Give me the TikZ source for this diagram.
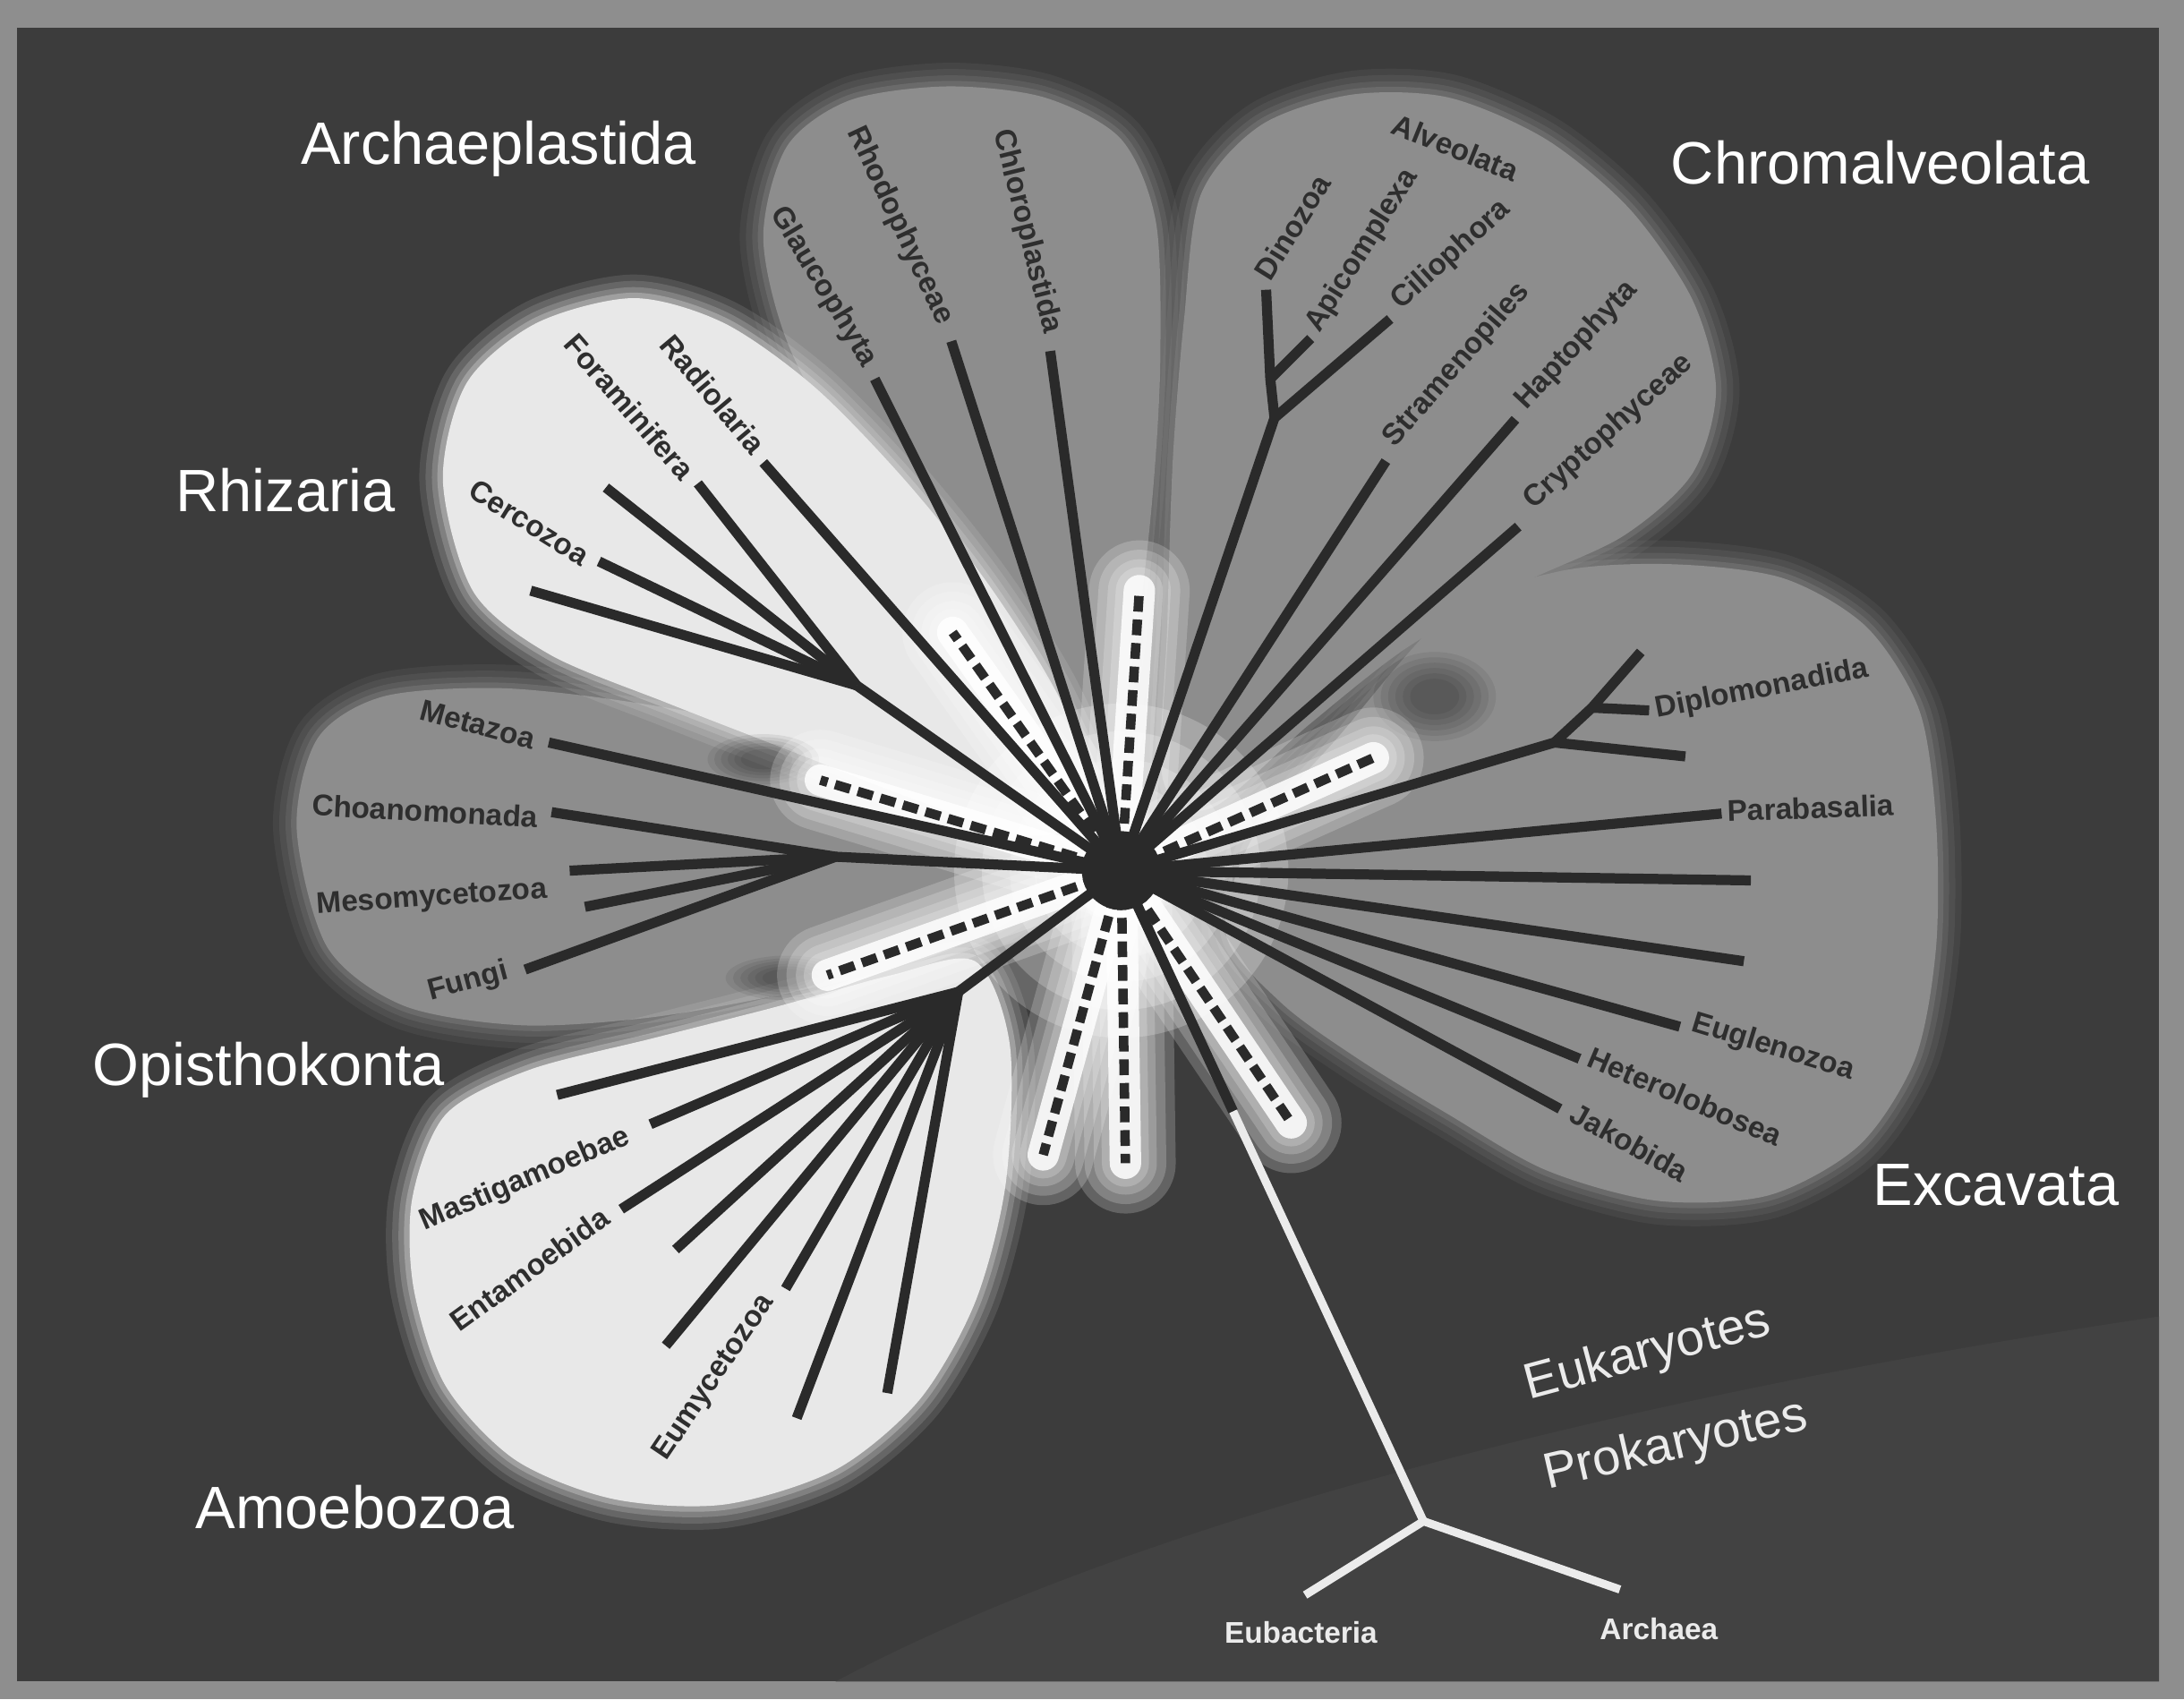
\documentclass[tikz,border=0pt]{standalone}
\usepackage{fontspec}
\setmainfont{Liberation Sans}
\usepackage{tikz}
\usetikzlibrary{calc}

\definecolor{frame}{HTML}{8E8E8E}
\definecolor{panel}{HTML}{3C3C3C}
\definecolor{band}{HTML}{424242}
\definecolor{petalgray}{HTML}{8D8D8D}
\definecolor{petalwhite}{HTML}{E8E8E8}
\definecolor{branch}{HTML}{2A2A2A}
\definecolor{taxtext}{HTML}{2E2E2E}

\begin{document}
\begin{tikzpicture}[
    x=0.015561cm, y=-0.015561cm,
    petal/.style={fill=#1, line join=round,
        preaction={draw=#1, draw opacity=0.12, line width=15pt, line join=round},
        preaction={draw=#1, draw opacity=0.15, line width=11pt, line join=round},
        preaction={draw=#1, draw opacity=0.2, line width=7pt, line join=round},
        preaction={draw=#1, draw opacity=0.3, line width=3.5pt, line join=round}},
    darkspot/.style={fill=black, fill opacity=0.07},
    branchline/.style={draw=branch, line width=3.2pt, line join=round},
    dashline/.style={draw=branch, line width=3pt, dash pattern=on 5pt off 2.5pt},
    rootline/.style={draw=white!92!black, line width=2.6pt, line join=round},
    group/.style={text=white, font=\fontsize{19}{22}\selectfont, inner sep=0pt},
    domainlbl/.style={text=white!92!black, font=\fontsize{16}{19}\selectfont, inner sep=0pt},
    leaf/.style={text=white!92!black, font=\bfseries\fontsize{9.5}{11}\selectfont, inner sep=0pt},
    taxon/.style={text=taxtext, font=\bfseries\fontsize{9.5}{11}\selectfont, inner sep=0pt}
]
\useasboundingbox (0,0) rectangle (1568,1220);

% Frame and background
\fill[frame] (0,0) rectangle (1568,1220);
\fill[panel] (12,20) rectangle (1550,1207);
\fill[band] (600,1207) .. controls (820,1090) and (1180,1000) .. (1550,945) -- (1550,1207) -- cycle;

% Petals
\path[petal=petalgray] plot[smooth cycle] coordinates {(548,170) (565,105) (610,72) (680,62) (750,70) (805,100) (830,160) (833,260) (828,350) (818,440) (800,540) (770,560) (730,500) (680,430) (610,330) (565,245)};
\path[petal=petalgray] plot[smooth cycle] coordinates {(850,230) (862,140) (905,90) (970,68) (1040,70) (1110,100) (1170,150) (1215,215) (1232,280) (1215,340) (1165,385) (1090,420) (1010,465) (940,520) (870,580) (835,560) (838,450) (842,330)};
\path[petal=petalgray] plot[smooth cycle] coordinates {(1040,440) (1120,410) (1200,405) (1280,415) (1340,450) (1378,510) (1390,590) (1390,680) (1375,760) (1335,822) (1270,858) (1190,862) (1110,840) (1040,800) (975,760) (920,720) (880,670) (900,600) (960,530)};
\path[petal=petalgray] plot[smooth cycle] coordinates {(213,595) (228,530) (275,500) (360,494) (460,505) (560,525) (650,560) (730,600) (740,650) (660,690) (570,712) (470,730) (375,736) (290,722) (235,680)};
\path[petal=petalwhite] plot[smooth cycle] coordinates {(318,345) (335,275) (385,232) (455,214) (520,232) (585,278) (650,345) (710,420) (760,500) (790,580) (740,600) (660,575) (570,540) (480,505) (395,470) (340,425)};
\path[petal=petalwhite] plot[smooth cycle] coordinates {(296,860) (320,800) (380,768) (470,745) (560,722) (640,700) (700,690) (725,750) (722,850) (700,935) (660,1005) (600,1055) (520,1080) (440,1076) (370,1048) (320,995) (297,925)};

% Shadows between petals
\foreach \r in {1,0.88,0.76,0.64,0.52,0.4} {
  \fill[darkspot] (1030,500) ellipse ({44*\r} and {32*\r});
  \fill[darkspot] (548,545) ellipse ({40*\r} and {18*\r});
  \fill[darkspot] (565,702) ellipse ({44*\r} and {16*\r});
}

% Tree points
\coordinate (C) at (805,625);
\coordinate (gla) at (628,272);
\coordinate (rho) at (683,245);
\coordinate (chl) at (754,252);
\coordinate (din) at (909,208);
\coordinate (api) at (941,243);
\coordinate (cil) at (998,229);
\coordinate (a1) at (912,272);
\coordinate (a2) at (915,300);
\coordinate (str) at (995,331);
\coordinate (hap) at (1088,301);
\coordinate (cry) at (1090,378);
\coordinate (rad) at (548,332);
\coordinate (fora) at (501,347);
\coordinate (rz1) at (435,350);
\coordinate (cer) at (430,403);
\coordinate (rz2) at (381,424);
\coordinate (rhz) at (615,492);
\coordinate (met) at (394,533);
\coordinate (cho) at (396,583);
\coordinate (op1) at (409,625);
\coordinate (mes) at (420,651);
\coordinate (fun) at (377,696);
\coordinate (opi) at (600,615);
\coordinate (am1) at (400,786);
\coordinate (mas) at (467,807);
\coordinate (ent) at (446,868);
\coordinate (am2) at (485,897);
\coordinate (am3) at (478,966);
\coordinate (eum) at (564,925);
\coordinate (am4) at (572,1018);
\coordinate (am5) at (637,1000);
\coordinate (amo) at (688,712);
\coordinate (n1) at (1116,533);
\coordinate (n2) at (1143,508);
\coordinate (ex1) at (1178,468);
\coordinate (dip) at (1184,510);
\coordinate (ex2) at (1210,543);
\coordinate (par) at (1236,584);
\coordinate (ex3) at (1257,632);
\coordinate (ex4) at (1252,690);
\coordinate (eug) at (1206,737);
\coordinate (het) at (1134,760);
\coordinate (jak) at (1120,796);
\coordinate (pk) at (1022,1092);
\coordinate (eub) at (937,1145);
\coordinate (arc) at (1163,1141);
\coordinate (sw) at ($(C)!0.37!(pk)$);
\coordinate (d1) at (818,424);
\coordinate (d2) at (684,454);
\coordinate (d3) at (589,560);
\coordinate (d4) at (594,700);
\coordinate (d5) at (749,829);
\coordinate (d6) at (808,835);
\coordinate (d7) at (927,806);
\coordinate (d8) at (986,544);

% White glow round the centre
\foreach \s in {120,100,80,62} \fill[white, opacity=0.22] (C) circle (\s);
\foreach \d in {d1,d2,d3,d4,d5,d6,d7,d8} {
  \foreach \w in {32,26,20,15}
    \draw[white, line cap=round, line width=\w pt, opacity=0.2] (C) -- (\d);
  \draw[white, line cap=round, line width=10pt, opacity=0.85] (C) -- (\d);
}

% Branches
\foreach \t in {gla,rho,chl,str,hap,cry,rad,met,par,ex3,ex4,eug,het,jak}
  \draw[branchline] (\t) -- (C);
\draw[branchline] (din) -- (a1) -- (a2) -- (C);
\draw[branchline] (api) -- (a1);
\draw[branchline] (cil) -- (a2);
\foreach \t in {fora,rz1,cer,rz2}
  \draw[branchline] (\t) -- (rhz);
\draw[branchline] (rhz) -- (C);
\foreach \t in {cho,op1,mes,fun}
  \draw[branchline] (\t) -- (opi);
\draw[branchline] (opi) -- (C);
\foreach \t in {am1,mas,ent,am2,am3,eum,am4,am5}
  \draw[branchline] (\t) -- (amo);
\draw[branchline] (amo) -- (C);
\draw[branchline] (ex1) -- (n2) -- (n1) -- (C);
\draw[branchline] (dip) -- (n2);
\draw[branchline] (ex2) -- (n1);

% Dashed branches
\foreach \d in {d1,d2,d3,d4,d5,d6,d7,d8}
  \draw[dashline] (C) -- (\d);

% Root to the prokaryotes
\draw[branchline] (C) -- (sw);
\draw[rootline] (sw) -- (pk);
\draw[rootline] (eub) -- (pk) -- (arc);

\node[circle, fill=branch, minimum size=0.88cm, inner sep=0pt] (hub) at (C) {};

% Taxon labels
\node[taxon, rotate=-59] (lgla) at (591,206) {Glaucophyta};
\node[taxon, rotate=-65] (lrho) at (646,162) {Rhodophyceae};
\node[taxon, rotate=-76] (lchl) at (737,166) {Chloroplastida};
\node[taxon, rotate=-22] (lalv) at (1045,106) {Alveolata};
\node[taxon, rotate=58] (ldin) at (928,163) {Dinozoa};
\node[taxon, rotate=58] (lapi) at (978,180) {Apicomplexa};
\node[taxon, rotate=42] (lcil) at (1042,183) {Ciliophora};
\node[taxon, rotate=49] (lstr) at (1046,262) {Stramenopiles};
\node[taxon, rotate=47] (lhap) at (1132,248) {Haptophyta};
\node[taxon, rotate=42] (lcry) at (1155,310) {Cryptophyceae};
\node[taxon, rotate=-50] (lrad) at (512,283) {Radiolaria};
\node[taxon, rotate=-49] (lfor) at (452,292) {Foraminifera};
\node[taxon, rotate=-32] (lcer) at (380,375) {Cercozoa};
\node[taxon, rotate=-15] (lmet) at (343,520) {Metazoa};
\node[taxon, rotate=-3] (lcho) at (305,582) {Choanomonada};
\node[taxon, rotate=4] (lmes) at (310,645) {Mesomycetozoa};
\node[taxon, rotate=15] (lfun) at (336,705) {Fungi};
\node[taxon, rotate=23] (lmas) at (377,847) {Mastigamoebae};
\node[taxon, rotate=36] (lent) at (380,911) {Entamoebida};
\node[taxon, rotate=56] (leum) at (513,989) {Eumycetozoa};
\node[taxon, rotate=11] (ldip) at (1265,495) {Diplomonadida};
\node[taxon, rotate=2] (lpar) at (1300,580) {Parabasalia};
\node[taxon, rotate=-17] (leug) at (1273,752) {Euglenozoa};
\node[taxon, rotate=-23] (lhet) at (1210,787) {Heterolobosea};
\node[taxon, rotate=-29] (ljak) at (1170,820) {Jakobida};

% Group labels
\node[group] (gArch) at (358,107) {Archaeplastida};
\node[group] (gChrom) at (1350,117) {Chromalveolata};
\node[group] (gRhiz) at (205,352) {Rhizaria};
\node[group] (gOpis) at (193,768) {Opisthokonta};
\node[group] (gAmoe) at (255,1082) {Amoebozoa};
\node[group] (gExca) at (1433,851) {Excavata};
\node[domainlbl, rotate=15] (gEuk) at (1183,972) {Eukaryotes};
\node[domainlbl, rotate=13] (gPro) at (1203,1038) {Prokaryotes};
\node[leaf] (lEub) at (934,1172) {Eubacteria};
\node[leaf] (lArc) at (1191,1169) {Archaea};

\end{tikzpicture}
\end{document}
